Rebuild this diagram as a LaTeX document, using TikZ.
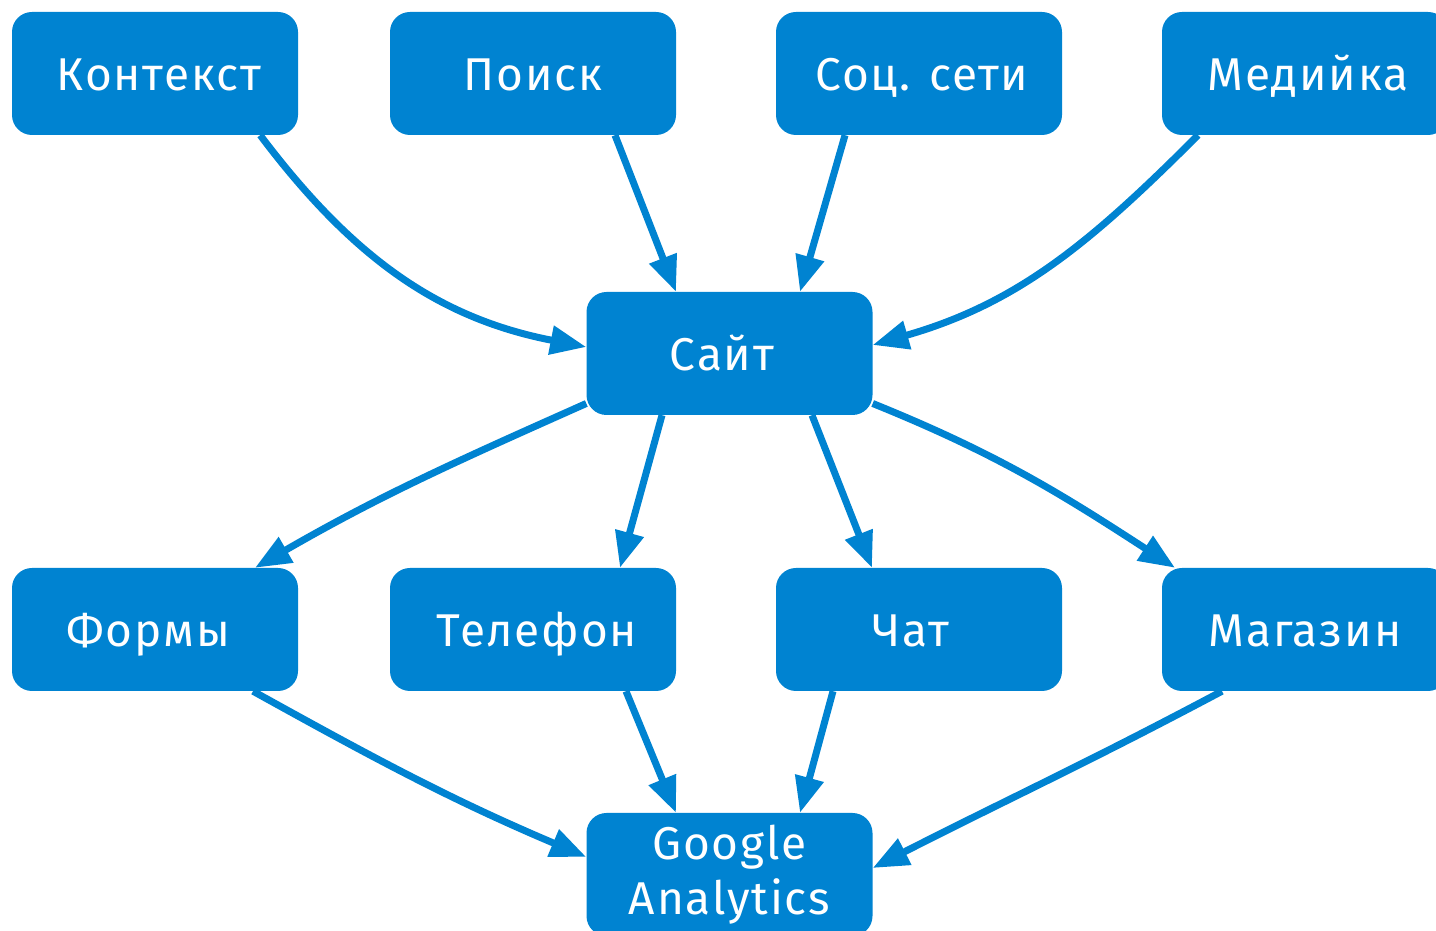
\documentclass[tikz,border=0pt]{standalone}
\usepackage{fontspec}
\setmainfont[LetterSpace=4]{Fira Sans}
\usetikzlibrary{arrows.meta,calc}
\definecolor{cblue}{HTML}{0083D1}
\begin{document}
\begin{tikzpicture}[x=1pt,y=1pt,
  box/.style={fill=cblue,rounded corners=20pt,minimum width=286pt,minimum height=123pt,inner sep=0pt,text=white,font=\fontsize{46}{55}\selectfont,text height=34pt,text depth=0pt},
  conn/.style={draw=cblue,line width=7pt,-{Triangle[length=36pt,width=28pt]}}]
\useasboundingbox (0,0) rectangle (1436,931);
\node[box] (ctx) at (155,857.5) {\hspace*{8pt}Контекст};
\node[box] (srch) at (533,857.5) {Поиск};
\node[box] (soc) at (919,857.5) {\hspace*{6pt}Соц. сети};
\node[box] (med) at (1305,857.5) {\hspace*{6pt}Медийка};
\node[box] (site) at (729.5,577.5) {Сайт\hspace*{15pt}};
\node[box] (frm) at (155,301.5) {Формы\hspace*{14pt}};
\node[box] (tel) at (533,301.5) {\hspace*{8pt}Телефон};
\node[box] (chat) at (919,301.5) {Чат\hspace*{16pt}};
\node[box] (shop) at (1305,301.5) {Магазин};
\node[box,align=center,text height=,text depth=,font=\fontsize{46}{55}\selectfont] (ga) at (729.5,56.5) {Google\\Analytics};
\draw[conn] ([xshift=-38pt]ctx.south east) to[out=-53,in=169] ([yshift=6.5pt]site.west);
\draw[conn] ([xshift=82pt]srch.south) -- ([xshift=-53.5pt]site.north);
\draw[conn] ([xshift=-74pt]soc.south) -- ([xshift=70.5pt]site.north);
\draw[conn] ([xshift=-107pt]med.south) to[out=-135,in=16] ([yshift=8.5pt]site.east);
\draw[conn] ([yshift=-50pt]site.west) to[out=-156,in=30] ([xshift=100pt]frm.north);
\draw[conn] ([xshift=-67.5pt]site.south) -- ([xshift=87pt]tel.north);
\draw[conn] ([xshift=82.5pt]site.south) -- ([xshift=-47pt]chat.north);
\draw[conn] ([yshift=-50pt]site.east) to[out=-22,in=147] ([xshift=-130pt]shop.north);
\draw[conn] ([xshift=98pt]frm.south) to[out=-29,in=157] ([yshift=17.5pt]ga.west);
\draw[conn] ([xshift=93pt]tel.south) -- ([xshift=-53.5pt]ga.north);
\draw[conn] ([xshift=-86pt]chat.south) -- ([xshift=70.5pt]ga.north);
\draw[conn] ([xshift=-83pt]shop.south) to[out=-152,in=27] ([yshift=6.5pt]ga.east);
\end{tikzpicture}
\end{document}
